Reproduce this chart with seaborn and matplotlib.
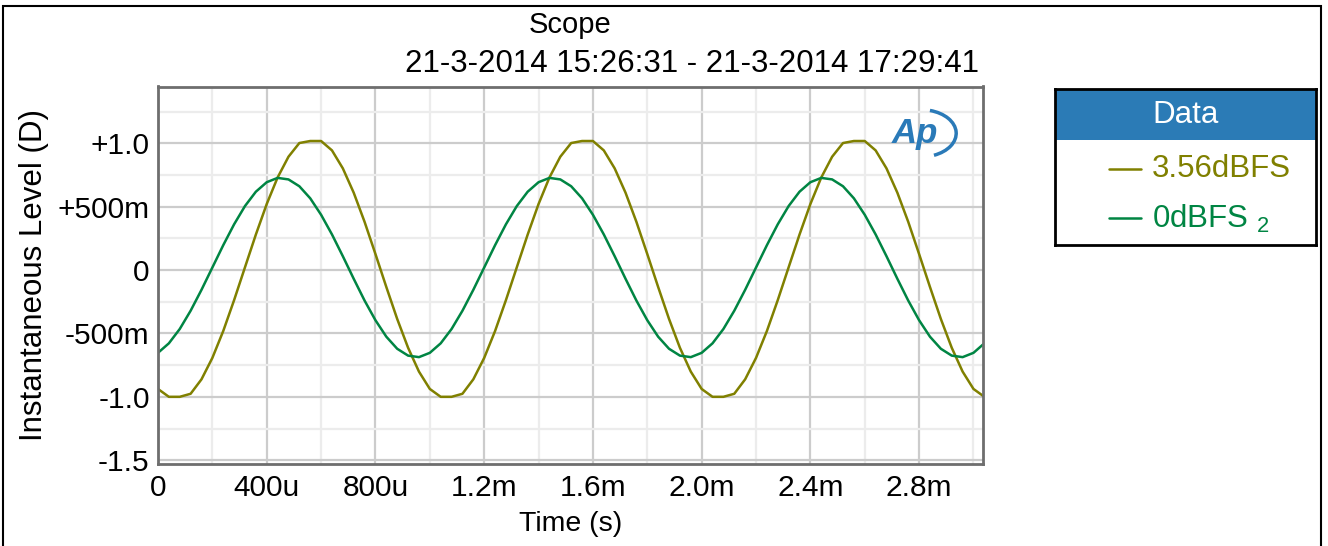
import matplotlib
matplotlib.use("Agg")
import matplotlib.pyplot as plt
from matplotlib.patches import Rectangle, Arc
import seaborn as sns
import pandas as pd

# ---- data (time in microseconds, level in D) ----
time_us = [0, 40, 80, 120, 160, 200, 240, 280, 320, 360, 400, 440, 480, 520, 560,
           600, 640, 680, 720, 760, 800, 840, 880, 920, 960, 1000, 1040, 1080, 1120,
           1160, 1200, 1240, 1280, 1320, 1360, 1400, 1440, 1480, 1520, 1560, 1600,
           1640, 1680, 1720, 1760, 1800, 1840, 1880, 1920, 1960, 2000, 2040, 2080,
           2120, 2160, 2200, 2240, 2280, 2320, 2360, 2400, 2440, 2480, 2520, 2560,
           2600, 2640, 2680, 2720, 2760, 2800, 2840, 2880, 2920, 2960, 3000, 3040]

level_356dbfs = [-0.938, -1.000, -1.000, -0.976, -0.862, -0.693, -0.481, -0.237, 0.022,
                 0.280, 0.521, 0.730, 0.894, 1.002, 1.018, 1.018, 0.944, 0.802, 0.610,
                 0.380, 0.126, -0.134, -0.386, -0.613, -0.801,
                 -0.938, -1.000, -1.000, -0.976, -0.862, -0.693, -0.481, -0.237, 0.022,
                 0.280, 0.521, 0.730, 0.894, 1.002, 1.018, 1.018, 0.944, 0.802, 0.610,
                 0.380, 0.126, -0.134, -0.386, -0.613, -0.801,
                 -0.938, -1.000, -1.000, -0.976, -0.862, -0.693, -0.481, -0.237, 0.022,
                 0.280, 0.521, 0.730, 0.894, 1.002, 1.018, 1.018, 0.944, 0.802, 0.610,
                 0.380, 0.126, -0.134, -0.386, -0.613, -0.801,
                 -0.938, -1.000]

level_0dbfs = [-0.653, -0.578, -0.465, -0.321, -0.156, 0.020, 0.196, 0.361, 0.505, 0.618,
               0.693, 0.727, 0.715, 0.661, 0.566, 0.436, 0.281, 0.109, -0.069, -0.241,
               -0.396, -0.526, -0.621, -0.675, -0.687,
               -0.653, -0.578, -0.465, -0.321, -0.156, 0.020, 0.196, 0.361, 0.505, 0.618,
               0.693, 0.727, 0.715, 0.661, 0.566, 0.436, 0.281, 0.109, -0.069, -0.241,
               -0.396, -0.526, -0.621, -0.675, -0.687,
               -0.653, -0.578, -0.465, -0.321, -0.156, 0.020, 0.196, 0.361, 0.505, 0.618,
               0.693, 0.727, 0.715, 0.661, 0.566, 0.436, 0.281, 0.109, -0.069, -0.241,
               -0.396, -0.526, -0.621, -0.675, -0.687,
               -0.653, -0.578]

series_names = ["3.56dBFS", "0dBFS 2"]
series_colors = ["#808000", "#008543"]

x_ticks = [0, 400, 800, 1200, 1600, 2000, 2400, 2800]
x_tick_labels = ["0", "400u", "800u", "1.2m", "1.6m", "2.0m", "2.4m", "2.8m"]
x_minor = [200, 600, 1000, 1400, 1800, 2200, 2600, 3000]
y_ticks = [1.0, 0.5, 0.0, -0.5, -1.0, -1.5]
y_tick_labels = ["+1.0", "+500m", "0", "-500m", "-1.0", "-1.5"]
y_minor = [1.25, 0.75, 0.25, -0.25, -0.75, -1.25]

title = "Scope"
subtitle = "21-3-2014 15:26:31 - 21-3-2014 17:29:41"

# ---- styling ----
sns.set_theme(style="white")
plt.rcParams["font.family"] = ["Liberation Sans", "DejaVu Sans"]
plt.rcParams["mathtext.fontset"] = "custom"
plt.rcParams["mathtext.rm"] = "Liberation Sans"
plt.rcParams["mathtext.default"] = "regular"
plt.rcParams["text.color"] = "black"
plt.rcParams["axes.labelcolor"] = "black"
plt.rcParams["xtick.color"] = "black"
plt.rcParams["ytick.color"] = "black"

df = pd.DataFrame({
    "t": time_us * 2,
    "v": level_356dbfs + level_0dbfs,
    "s": [series_names[0]] * len(time_us) + [series_names[1]] * len(time_us),
})

W, H = 1328, 546
fig = plt.figure(figsize=(W / 100, H / 100), dpi=100)
ax = fig.add_axes([158 / W, 1 - 464 / H, (983 - 158) / W, (464 - 86.5) / H])

sns.lineplot(data=df, x="t", y="v", hue="s", palette=series_colors, ax=ax,
             legend=False, linewidth=1.8, estimator=None, sort=False)

ax.set_xlim(0, 3035)
ax.set_ylim(-1.53, 1.448)
ax.set_xticks(x_ticks)
ax.set_xticklabels(x_tick_labels)
ax.set_xticks(x_minor, minor=True)
ax.set_yticks(y_ticks)
ax.set_yticklabels(y_tick_labels)
ax.set_yticks(y_minor, minor=True)
ax.grid(which="major", color="#cccccc", linewidth=1.6)
ax.grid(which="minor", color="#ececec", linewidth=1.6)
ax.set_axisbelow(True)
ax.tick_params(which="both", length=0, labelsize=21.5, colors="black")
ax.tick_params(axis="x", pad=7)
ax.tick_params(axis="y", pad=6)
for sp in ax.spines.values():
    sp.set_color("#6e6e6e")
    sp.set_linewidth(2)
ax.set_xlabel("Time (s)", fontsize=20.5, labelpad=7)
ax.set_ylabel("Instantaneous Level (D)", fontsize=22.5, labelpad=6)

fig.text(0.5 * (158 + 983) / W, 1 - 25 / H, title, fontsize=21,
         ha="center", va="center")
fig.text(979 / W, 1 - 64 / H, subtitle, fontsize=22.5, ha="right", va="center")

# AP logo
ax.text(0.918, 0.876, "Ap", transform=ax.transAxes, fontsize=25, fontweight="bold",
        fontstyle="italic", color="#2a7ab8", ha="center", va="center")
ax.add_patch(Arc((0.925, 0.876), 0.085, 0.125, theta1=-75, theta2=80,
                 transform=ax.transAxes, color="#2a7ab8", lw=2.5))

# legend box
lax = fig.add_axes([1055 / W, 1 - 245 / H, 261 / W, 156 / H])
lax.set_xlim(0, 1)
lax.set_ylim(0, 1)
lax.set_xticks([])
lax.set_yticks([])
for sp in lax.spines.values():
    sp.set_color("black")
    sp.set_linewidth(2)
lax.add_patch(Rectangle((0, 0.673), 1, 0.327, facecolor="#2b7bb6", edgecolor="none"))
lax.text(0.50, 0.836, "Data", color="white", fontsize=22.5, ha="center", va="center")
entry_y = [0.49, 0.17]
for yy, name, col in zip(entry_y, series_names, series_colors):
    lax.plot([0.205, 0.33], [yy, yy], color=col, lw=1.8)
labels_txt = [series_names[0], r"0dBFS $_{2}$"]
for yy, lab, col in zip(entry_y, labels_txt, series_colors):
    lax.text(0.37, yy, lab, color=col, fontsize=22.5, ha="left", va="center")

# outer frame
fig.patches.append(Rectangle((3 / W, -0.1), (1321 - 3) / W, 1.1 - 6 / H,
                             transform=fig.transFigure, fill=False,
                             edgecolor="black", linewidth=1.5))

fig.savefig("out.png", dpi=100)
